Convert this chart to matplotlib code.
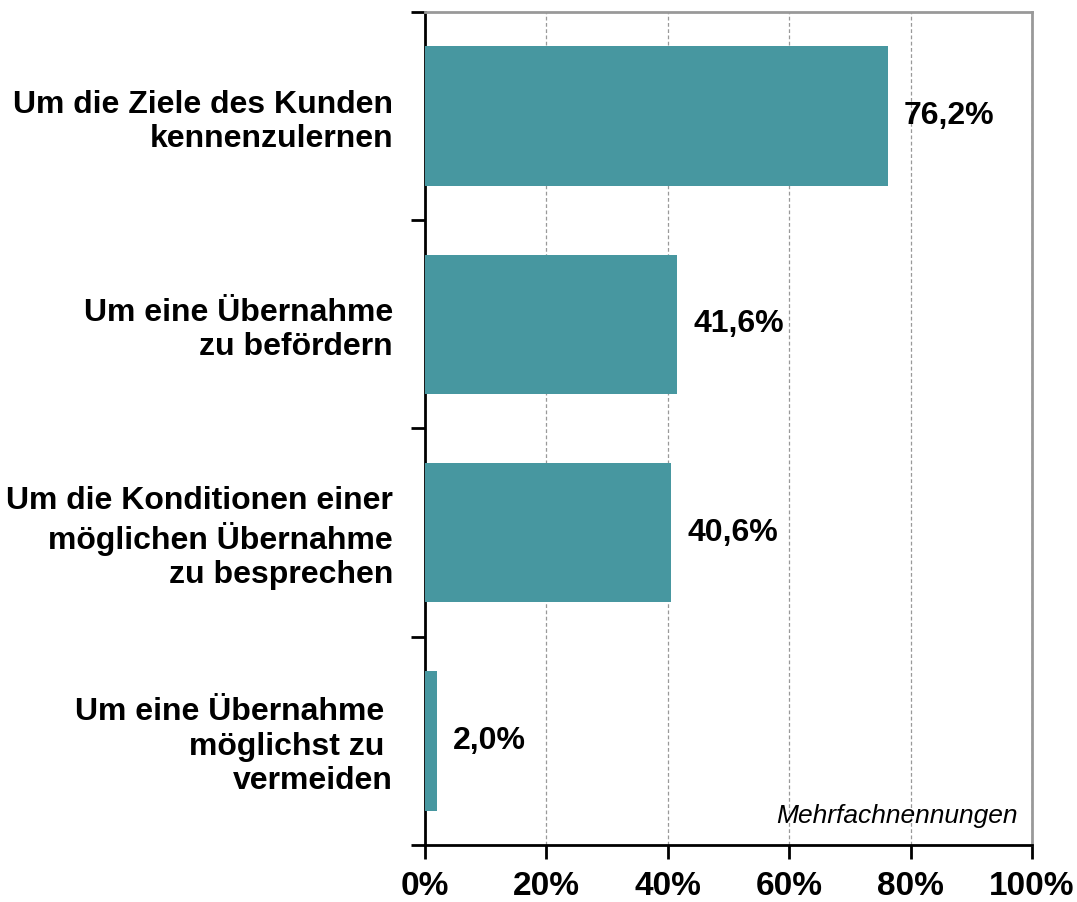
import matplotlib.pyplot as plt
import matplotlib.ticker as mtick

categories = ['Um die Ziele des Kunden\nkennenzulernen',
              'Um eine Übernahme\nzu befördern',
              'Um die Konditionen einer\nmöglichen Übernahme\nzu besprechen',
              'Um eine Übernahme \nmöglichst zu \nvermeiden']
values = [76.2, 41.6, 40.6, 2.0]
value_labels = ['76,2%', '41,6%', '40,6%', '2,0%']
xticks = [0, 20, 40, 60, 80, 100]

plt.rcParams['font.family'] = ['Liberation Sans', 'DejaVu Sans']

fig = plt.figure(figsize=(10.77, 9.02), dpi=100)
ax = fig.add_axes([0.3946, 0.0632, 0.5636, 0.9235])

ypos = list(range(len(categories)))
ax.barh(ypos, values, height=0.67, color='#4797a0', zorder=3)
ax.set_ylim(len(categories) - 0.5, -0.5)
ax.set_xlim(0, 100)

for y, v, lab in zip(ypos, values, value_labels):
    ax.text(v + 2.6, y, lab, va='center', ha='left', fontsize=23, fontweight='bold', zorder=4)

ax.set_xticks(xticks)
ax.xaxis.set_major_formatter(mtick.FuncFormatter(lambda x, p: '%d%%' % x))
for t in ax.get_xticklabels():
    t.set_fontsize(24)
    t.set_fontweight('bold')
    t.set_family(['Liberation Sans Narrow', 'Liberation Sans'])

ax.set_yticks([-0.5, 0.5, 1.5, 2.5, 3.5])
ax.set_yticklabels([])
ax.set_yticks(ypos, minor=True)
ax.set_yticklabels(categories, minor=True, fontsize=23, fontweight='bold', ha='right')
ax.tick_params(axis='y', which='minor', length=0, pad=23)
ax.tick_params(axis='y', which='major', length=10, width=2)
ax.tick_params(axis='x', length=10, width=2, pad=9)

ax.grid(axis='x', color='#999999', linestyle=(0, (3, 2)), linewidth=0.9, zorder=0)
ax.spines['left'].set_linewidth(2)
ax.spines['bottom'].set_linewidth(2)
ax.spines['top'].set_color('#999999')
ax.spines['right'].set_color('#999999')
ax.spines['top'].set_linewidth(2)
ax.spines['right'].set_linewidth(2)

ax.text(97.7, 3.36, 'Mehrfachnennungen', ha='right', va='center', fontsize=19, style='italic', zorder=4)

plt.savefig('out.png', dpi=100)
